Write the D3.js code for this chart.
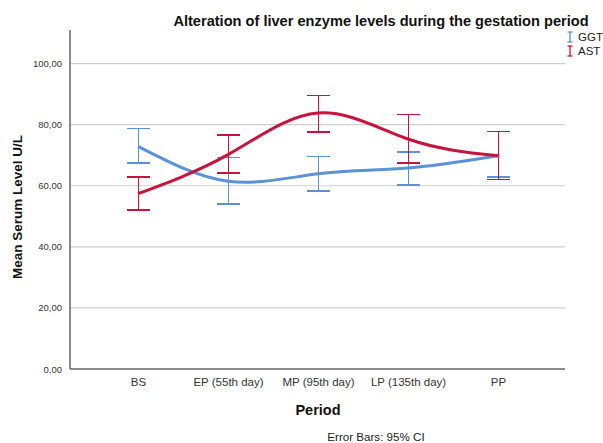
<!DOCTYPE html>
<html><head><meta charset="utf-8">
<script src="https://cdn.jsdelivr.net/npm/d3@7"></script>
<style>body{margin:0;background:#fff}svg{display:block}text{font-family:"Liberation Sans",Arial,sans-serif}</style>
</head><body><svg id="c" width="603" height="443"></svg>
<script>
const categories = ["BS","EP (55th day)","MP (95th day)","LP (135th day)","PP"];
const ggtMean  = [72.9, 61.5, 63.9, 65.8, 69.8];
const ggtLower = [67.4, 54.1, 58.3, 60.3, 62.8];
const ggtUpper = [78.7, 69.2, 69.5, 71.1, 77.8];
const astMean  = [57.4, 70.2, 83.8, 75.3, 69.8];
const astLower = [52.0, 64.2, 77.6, 67.5, 62.0];
const astUpper = [62.8, 76.6, 89.5, 83.4, 77.8];
const yTicks = [0, 20, 40, 60, 80, 100];
const seriesNames = ["GGT","AST"];
const colors = {GGT:"#5a92d8", AST:"#c8143c"};

const svg = d3.select("#c");
const x = d3.scalePoint().domain(categories).range([70,565]).padding(0.75).round(true);
const y = d3.scaleLinear().domain([0,111]).range([369,30]);
const fmt = v => d3.format(".2f")(v).replace(".", ",");

// gridlines
svg.append("g").selectAll("line").data(yTicks.filter(t=>t>0)).join("line")
  .attr("x1",70).attr("x2",565).attr("y1",d=>y(d)).attr("y2",d=>y(d))
  .attr("stroke","#cfcfcf").attr("stroke-width",1.2);

// axes
const ya = svg.append("g").attr("transform","translate(70,0)")
  .call(d3.axisLeft(y).tickValues(yTicks).tickFormat(fmt).tickSize(0).tickPadding(8));
ya.select(".domain").remove();
ya.selectAll("text").attr("font-size",9.5).attr("fill","#333");
const xa = svg.append("g").attr("transform","translate(0,369)")
  .call(d3.axisBottom(x).tickSize(0).tickPadding(9));
xa.select(".domain").remove();
xa.selectAll("text").attr("font-size",11.5).attr("fill","#333");
svg.append("line").attr("x1",70).attr("x2",70).attr("y1",30).attr("y2",369).attr("stroke","#666").attr("stroke-width",1.5);
svg.append("line").attr("x1",70).attr("x2",565).attr("y1",369).attr("y2",369).attr("stroke","#666").attr("stroke-width",1.5);

const data = {
  GGT: categories.map((c,i)=>({c, m:ggtMean[i], lo:ggtLower[i], hi:ggtUpper[i]})),
  AST: categories.map((c,i)=>({c, m:astMean[i], lo:astLower[i], hi:astUpper[i]}))
};
const line = d3.line().x(d=>x(d.c)).y(d=>y(d.m)).curve(d3.curveNatural);
const capW = 11;
seriesNames.forEach(s=>{
  const g = svg.append("g").attr("shape-rendering","crispEdges");
  const col = colors[s];
  g.selectAll("line.v").data(data[s]).join("line").attr("class","v")
    .attr("x1",d=>x(d.c)+0.5).attr("x2",d=>x(d.c)+0.5).attr("y1",d=>y(d.lo)).attr("y2",d=>y(d.hi))
    .attr("stroke",col).attr("stroke-width",1.5);
  g.selectAll("line.t").data(data[s]).join("line").attr("class","t")
    .attr("x1",d=>x(d.c)-capW).attr("x2",d=>x(d.c)+capW+1).attr("y1",d=>y(d.hi)).attr("y2",d=>y(d.hi))
    .attr("stroke",col).attr("stroke-width",1.5);
  g.selectAll("line.b").data(data[s]).join("line").attr("class","b")
    .attr("x1",d=>x(d.c)-capW).attr("x2",d=>x(d.c)+capW+1).attr("y1",d=>y(d.lo)).attr("y2",d=>y(d.lo))
    .attr("stroke",col).attr("stroke-width",1.5);
  svg.append("path").datum(data[s]).attr("d",line).attr("fill","none")
    .attr("stroke",col).attr("stroke-width",3);
});

// title & labels
svg.append("text").attr("x",381).attr("y",26).attr("text-anchor","middle")
  .attr("font-size",14.6).attr("font-weight","bold").attr("fill","#111")
  .text("Alteration of liver enzyme levels during the gestation period");
svg.append("text").attr("transform","translate(22,207) rotate(-90)").attr("text-anchor","middle")
  .attr("font-size",13.5).attr("font-weight","bold").attr("fill","#111").text("Mean Serum Level U/L");
svg.append("text").attr("x",318).attr("y",415).attr("text-anchor","middle")
  .attr("font-size",14.5).attr("font-weight","bold").attr("fill","#111").text("Period");
svg.append("text").attr("x",376).attr("y",441).attr("text-anchor","middle")
  .attr("font-size",11.6).attr("fill","#222").text("Error Bars: 95% CI");

// legend
const lg = svg.append("g");
seriesNames.forEach((s,i)=>{
  const yy = 37 + i*14;
  const col = colors[s];
  lg.append("line").attr("x1",570).attr("x2",570).attr("y1",yy-5).attr("y2",yy+5).attr("stroke",col).attr("stroke-width",1.3);
  lg.append("line").attr("x1",567.5).attr("x2",572.5).attr("y1",yy-5).attr("y2",yy-5).attr("stroke",col).attr("stroke-width",1.3);
  lg.append("line").attr("x1",567.5).attr("x2",572.5).attr("y1",yy+5).attr("y2",yy+5).attr("stroke",col).attr("stroke-width",1.3);
  lg.append("text").attr("x",578).attr("y",yy+4).attr("font-size",11.5).attr("fill","#222").text(s);
});
</script></body></html>
